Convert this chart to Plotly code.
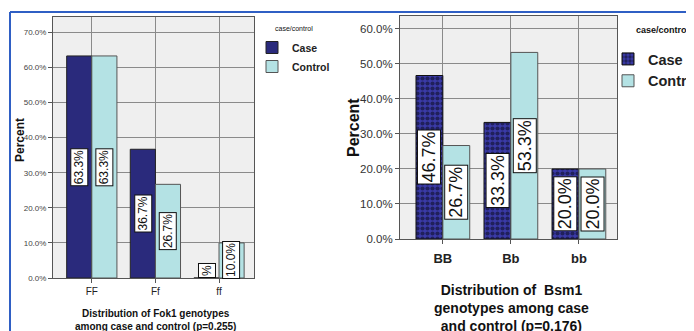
import plotly.graph_objects as go

W, H = 694, 331
OFF = 8  # default body margin of the page
FW, FH = W - OFF, H - OFF

fok_genotypes = ["FF", "Ff", "ff"]
fok_case = [63.3, 36.7, 0.0]
fok_control = [63.3, 26.7, 10.0]

bsm_genotypes = ["BB", "Bb", "bb"]
bsm_case = [46.7, 33.3, 20.0]
bsm_control = [26.7, 53.3, 20.0]

left_ticks = [0, 10, 20, 30, 40, 50, 60, 70]
right_ticks = [0, 10, 20, 30, 40, 50, 60]

CASE = "#2a2a7c"
CONTROL = "#b4e2e4"
FONT = "Liberation Sans, Arial, sans-serif"


def px_x(p):
    return (p - OFF) / FW


def px_y(p):
    return 1 - (p - OFF) / FH


fig = go.Figure()
idx = list(range(3))

fig.add_trace(go.Bar(x=idx, y=fok_case, name="<b>Case</b>", marker=dict(color=CASE, line=dict(color="#222", width=1)),
                     xaxis="x", yaxis="y", legend="legend"))
fig.add_trace(go.Bar(x=idx, y=fok_control, name="<b>Control</b>", marker=dict(color=CONTROL, line=dict(color="#555", width=1)),
                     xaxis="x", yaxis="y", legend="legend"))
fig.add_trace(go.Bar(x=idx, y=bsm_case, name="<b>Case</b>",
                     marker=dict(color="#3a3aa8", line=dict(color="#111", width=1),
                                 pattern=dict(shape=".", fgcolor="#050510", bgcolor="#3a3aa8", size=5, solidity=0.55, fillmode="overlay")),
                     xaxis="x2", yaxis="y2", legend="legend2"))
fig.add_trace(go.Bar(x=idx, y=bsm_control, name="<b>Control</b>", marker=dict(color=CONTROL, line=dict(color="#555", width=1)),
                     xaxis="x2", yaxis="y2", legend="legend2"))

grid = dict(showgrid=True, gridcolor="#8a8a8a", gridwidth=1, showline=True, linecolor="#555", linewidth=1, mirror=True,
            zeroline=False, automargin=False)

fig.update_layout(
    width=FW, height=FH, margin=dict(l=0, r=0, t=0, b=0, autoexpand=False),
    paper_bgcolor="white", plot_bgcolor="#efefef",
    barmode="group", bargap=0.21, bargroupgap=0,
    font=dict(family=FONT, color="#222"),
    xaxis=dict(domain=[px_x(53), px_x(254)], range=[-0.61, 2.55], tickvals=idx, ticktext=fok_genotypes,
               ticks="outside", ticklen=4, tickcolor="#555", tickfont=dict(size=10, color="#222"), anchor="y", **grid),
    yaxis=dict(domain=[px_y(278), px_y(17)], range=[0, 74.4], tickvals=left_ticks,
               ticktext=[f"{t:.1f}%" for t in left_ticks], ticks="outside", ticklen=4, tickcolor="#555",
               tickfont=dict(size=8, color="#444"), anchor="x", **grid),
    xaxis2=dict(domain=[px_x(400), px_x(617)], range=[-0.63, 2.56], tickvals=idx, ticktext=[f"<b>{g}</b>" for g in bsm_genotypes],
                ticks="outside", ticklen=4, tickcolor="#555", tickfont=dict(size=13, color="#222"), anchor="y2",
                ticklabelstandoff=3, **grid),
    yaxis2=dict(domain=[px_y(239), px_y(16)], range=[0, 63.7], tickvals=right_ticks,
                ticktext=[f"{t:.1f}%" for t in right_ticks], ticks="outside", ticklen=4, tickcolor="#555",
                tickfont=dict(size=11.5, color="#333"), anchor="x2", **grid),
    legend=dict(x=px_x(252), y=px_y(33), xanchor="left", yanchor="top", bgcolor="rgba(0,0,0,0)",
                font=dict(size=10.5, color="#222"), itemwidth=30, tracegroupgap=0, traceorder="normal"),
    legend2=dict(x=px_x(608), y=px_y(43), xanchor="left", yanchor="top", bgcolor="rgba(0,0,0,0)",
                 font=dict(size=14.5, color="#222"), itemwidth=30, tracegroupgap=0, traceorder="normal"),
    showlegend=True,
)

annotations = []


def add_labels(vals, offset, xref, yref, size):
    for i, v in enumerate(vals):
        txt = f"{v:.1f}%" if v > 0 else "%"
        annotations.append(dict(x=i + offset, y=v / 2 if v > 0 else 0, xref=xref, yref=yref, text=txt,
                                textangle=-90, showarrow=False, bgcolor="white", bordercolor="#111", borderwidth=1,
                                borderpad=1, font=dict(size=size, color="#111"), xanchor="center",
                                yanchor="middle" if v > 0 else "bottom"))


add_labels(fok_case, -0.197, "x", "y", 12)
add_labels(fok_control, 0.197, "x", "y", 12)
add_labels(bsm_case, -0.2, "x2", "y2", 18)
add_labels(bsm_control, 0.2, "x2", "y2", 18)


def paper_text(x, y, text, size, angle=0):
    annotations.append(dict(x=px_x(x), y=px_y(y), xref="paper", yref="paper", text=text, textangle=angle,
                            showarrow=False, xanchor="center", yanchor="middle", font=dict(size=size, color="#111")))


paper_text(20, 140, "<b>Percent</b>", 12, -90)
paper_text(353, 128, "<b>Percent</b>", 16, -90)
paper_text(155, 320, "<b>Distribution of Fok1 genotypes<br>among case and control (p=0.255)</b>", 10)
paper_text(511, 308, "<b>Distribution of  Bsm1<br>genotypes among case<br>and control (p=0.176)</b>", 14)
# legend titles
paper_text(294, 28, "case/control", 7)
paper_text(662, 30, "<b>case/control</b>", 9)
fig.update_layout(annotations=annotations)

fig.add_shape(type="line", xref="paper", yref="paper", x0=px_x(10), x1=1, y0=px_y(12), y1=px_y(12),
              line=dict(color="#2f5fc4", width=2))
fig.add_shape(type="line", xref="paper", yref="paper", x0=px_x(10), x1=px_x(10), y0=px_y(12), y1=0,
              line=dict(color="#2f5fc4", width=2))

fig.write_html("out.html")
